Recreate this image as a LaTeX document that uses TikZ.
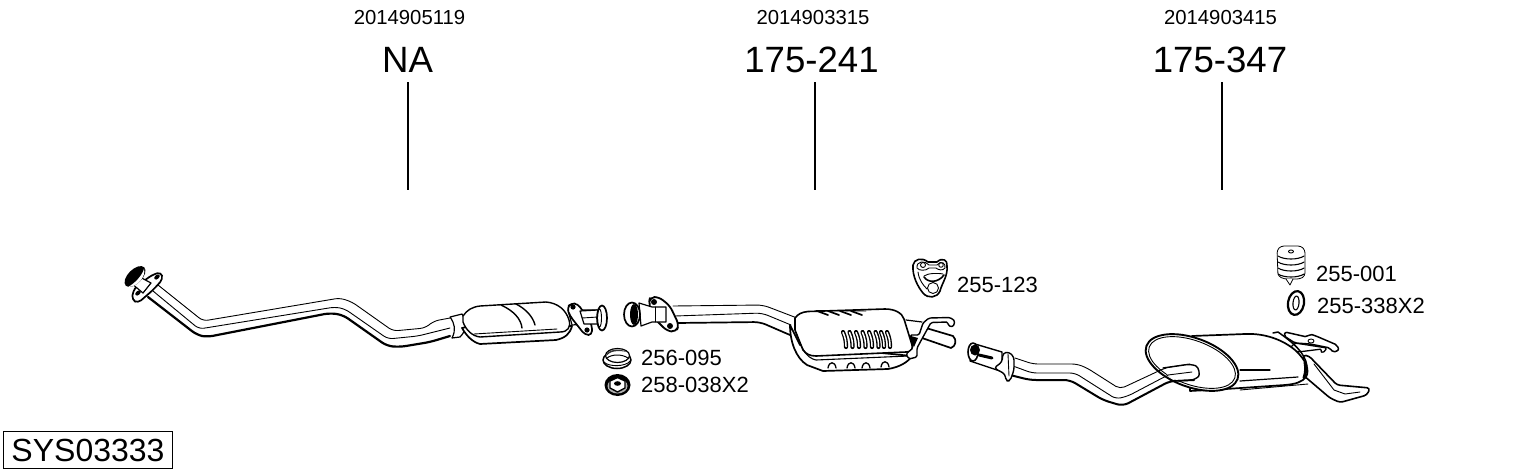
\documentclass[tikz,border=0pt]{standalone}
\usepackage{fontspec}
\setmainfont{Liberation Sans}
\begin{document}
\begin{tikzpicture}[x=1pt,y=-1pt,
  part/.style={draw=black,line width=1.2pt,fill=white,line join=round,line cap=round},
  thin/.style={draw=black,line width=.9pt,line join=round,line cap=round},
  heavy/.style={draw=black,line width=2.2pt,line join=round,line cap=round},
  numlabel/.style={font=\fontsize{20.3}{20.3}\selectfont,inner sep=0pt},
  reflabel/.style={font=\fontsize{36.6}{36.6}\selectfont,inner sep=0pt},
  kitlabel/.style={font=\fontsize{22}{22}\selectfont,inner sep=0pt,anchor=west},
  leader/.style={draw=black,line width=1.2pt}]
\useasboundingbox (0,0) rectangle (1530,474);
\fill[white] (0,0) rectangle (1530,474);

% ---------- header labels and leaders
\node[numlabel] (n1) at (409.5,18) {2014905119};
\node[numlabel] (n2) at (813,18) {2014903315};
\node[numlabel] (n3) at (1220.5,18) {2014903415};
\node[reflabel] (r1) at (407.5,60) {NA};
\node[reflabel] (r2) at (811.5,60) {175-241};
\node[reflabel] (r3) at (1220,60) {175-347};
\coordinate (l1a) at (408,82); \coordinate (l1b) at (408,190);
\coordinate (l2a) at (815,82); \coordinate (l2b) at (815,190);
\coordinate (l3a) at (1222,82); \coordinate (l3b) at (1222,190);
\draw[leader] (l1a) -- (l1b);
\draw[leader] (l2a) -- (l2b);
\draw[leader] (l3a) -- (l3b);

% ---------- part 1: front pipe
\path[fill=white] (160,287) -- (203,321) -- (340,298) -- (370,317) -- (393,331) -- (425,328) -- (450,318) -- (450,336) -- (400,347) -- (387,346) -- (343,315) -- (207,337) -- (197,335) -- (148,297) -- cycle;
\draw[thin,rounded corners=5pt] (158,285) -- (203,321) -- (340,298) -- (352,302) -- (393,331) -- (425,328) -- (434,321) -- (450,318);
\draw[thin,rounded corners=5pt] (153,291) -- (199,329) -- (335,307) -- (345,309) -- (388,339) -- (418,336) -- (450,328);
\draw[heavy,rounded corners=6pt] (148,297) -- (197,335) -- (207,337) -- (330,313) -- (343,315) -- (387,346) -- (400,347) -- (430,342) -- (450,336);
% flange and inlet
\draw[part,rounded corners=4pt,line width=1.7pt] (152,275) -- (161,272) -- (163,279) -- (153,290) -- (138,303) -- (132,300) -- (133,291) -- (137,286) -- cycle;
\fill[black] (157,277) ellipse [x radius=3.2pt,y radius=2pt,rotate=40];
\fill[black] (138,293) ellipse [x radius=3.2pt,y radius=2pt,rotate=40];
\draw[part] (138,276) -- (151,283) -- (143,293) -- (131,283) -- cycle;
\fill[black] (135,276.5) ellipse [x radius=13pt,y radius=7pt,rotate=45];
\path[fill=white] (128,287) .. controls (134,284) and (142,276) .. (144,269) .. controls (146,276) and (138,287) .. (128,287) -- cycle;

% catalyst
\draw[part] (450,317) -- (462,314) .. controls (467,322) and (467,330) .. (460,337) -- (452,338) .. controls (456,330) and (455,324) .. (450,317);
\draw[part,line width=1.7pt] (462,328) .. controls (466,335) and (472,342) .. (480,344) -- (556,340) .. controls (565,338) and (570,334) .. (572,326) -- (566,326) -- (470,326) -- cycle;
\draw[part,line width=1.4pt] (463,316) .. controls (467,310) and (472,307) .. (480,306) -- (546,302) .. controls (558,303) and (566,310) .. (569,320) .. controls (571,327) and (568,332) .. (560,332) -- (480,337) .. controls (472,336) and (466,330) .. (463,322) -- cycle;
\draw[thin,line width=1.4pt] (501,305) .. controls (514,311) and (521,319) .. (522,328);
\draw[thin,line width=1.4pt] (516,304) .. controls (526,309) and (533,317) .. (535,325);
\draw[thin] (474,334) -- (557,329);
% outlet flange
\draw[part] (568,310) -- (597,310) -- (600,323) -- (572,325) -- cycle;
\draw[part,rounded corners=4pt,line width=1.7pt] (571,303) -- (578,304) -- (592,325) -- (592,335) -- (585,335) -- (570,316) -- (567,308) -- cycle;
\fill[black] (573,307) circle [radius=2.6pt];
\fill[black] (587,330) circle [radius=2.6pt];
\draw[part] (580,311) -- (598,310) -- (598,324) -- (584,324) -- cycle;
\draw[thin] (582,318) -- (598,317);
\draw[part,line width=1.7pt] (602,318) ellipse [x radius=5pt,y radius=12.5pt];
\draw[thin] (599.5,318) ellipse [x radius=2pt,y radius=9pt];

% ---------- kit parts 256-095, 258-038X2
\draw[part,line width=1.5pt] (617,360) ellipse [x radius=14pt,y radius=8.5pt];
\draw[thin] (604,362) .. controls (608,367) and (626,367) .. (630,361);
\draw[part] (617.5,355.5) ellipse [x radius=12pt,y radius=7pt];
\path[fill=black!80] (606,356) .. controls (607,349) and (620,348) .. (627,352) .. controls (618,350) and (610,351) .. (606,356) -- cycle;
\draw[black,line width=1pt] (607,358) .. controls (612,354) and (622,354) .. (628,358);
\fill[black] (617.5,385) ellipse [x radius=13pt,y radius=11pt];
\fill[black!30] (617.5,386) ellipse [x radius=10pt,y radius=7.5pt];
\draw[part,line width=1.4pt] (610,381) -- (617.5,377.5) -- (625,381) -- (625,388) -- (617.5,392) -- (610,388) -- cycle;
\fill[black] (617.5,383.5) ellipse [x radius=3.5pt,y radius=2.3pt];
\node[kitlabel] (k1) at (641,358) {256-095};
\node[kitlabel] (k2) at (641,385) {258-038X2};

% ---------- part 2: middle muffler pipe and flange
\path[fill=white] (673,307) -- (763,305) -- (797,318) -- (790,333) -- (760,322) -- (677,323) -- cycle;
\draw[thin,rounded corners=6pt] (673,306) -- (763,305) -- (797,318);
\draw[thin,rounded corners=6pt] (675,316) -- (762,313) -- (791,325);
\draw[heavy,line width=1.7pt,rounded corners=6pt] (677,323) -- (760,322) -- (790,335);
\draw[part,rounded corners=5pt,line width=1.8pt] (650,297) -- (659,297) -- (670,306) -- (679,325) -- (676,332) -- (667,331) -- (652,316) -- (649,303) -- cycle;
\fill[black] (654,302) circle [radius=3pt];
\fill[black] (670,326) circle [radius=3pt];
\draw[part] (639,303) -- (652,307) -- (666,307) -- (666,322) -- (652,322) -- (641,326) -- cycle;
\draw[thin] (655,307) -- (655,322);
\draw[part,line width=1.7pt] (632,314.5) ellipse [x radius=8pt,y radius=12pt];
\fill[black] (634,314.5) ellipse [x radius=4pt,y radius=10.5pt];

% tail pipe behind the muffler
\draw[part,line width=1.7pt] (926,328) -- (953,336) .. controls (957,340) and (956,346) .. (951,348) -- (922,338) -- cycle;
\draw[thin,line width=1.2pt] (906,320) -- (922,322);
% muffler lower shell
\draw[part,line width=1.7pt] (790,325) .. controls (790,342) and (796,358) .. (807,365) -- (823,371) -- (888,369) .. controls (900,367) and (908,362) .. (912,356) -- (800,345) -- cycle;
\foreach \bx/\by in {833/367,852/367,867/367,886/366}
  \draw[thin,line width=1.3pt] (\bx-5,\by+1) .. controls (\bx-4,\by-6) and (\bx+2,\by-6) .. (\bx+3,\by+1);
% muffler upper shell
\draw[part,line width=1.6pt] (795,318) .. controls (798,314) and (802,312) .. (808,311.5) -- (885,309) .. controls (895,309) and (902,313) .. (904,319) -- (912,345) .. controls (913,350) and (911,352) .. (906,352) -- (816,356) .. controls (810,356) and (806,354) .. (803,350) -- (795,330) -- cycle;
\draw[thin,line width=1.1pt] (796,333) .. controls (801,347) and (806,358) .. (816,360) -- (908,356);
% top slits
\foreach \sx in {817,828,840,851}
  \draw[heavy,line width=1.7pt] (\sx,311) -- (\sx+11,315);
\draw[thin] (816,310.5) -- (866,311);
% side slits
\foreach \sx in {843,849.5,856,862.5,869,875.5,881,887}
  {\draw[black,line width=4.2pt,line cap=round] (\sx,332) .. controls (\sx+2.5,338) and (\sx+3,342) .. (\sx+3,347);
   \draw[white,line width=1.5pt,line cap=round] (\sx,332.5) .. controls (\sx+2.5,338) and (\sx+3,342) .. (\sx+3,346.5);}
% hanger bracket on the muffler end
\draw[part,line width=1.4pt,rounded corners=1.5pt] (910,335) -- (919,335) -- (923,323) -- (929,318) -- (950,317.5) -- (955,321) -- (953,327) -- (948,325.5) -- (948,322) -- (931,322.5) -- (923,337) -- (917,348) -- (917,357) -- (909,359) -- (906,354) -- (913,348) -- (912,342) -- cycle;
\fill[black] (911,336) -- (918,338) -- (914,347) -- (911,342) -- cycle;

% bracket 255-123
\draw[part,line width=1.6pt] (913,265) .. controls (914,259) and (922,257) .. (928,262) -- (937,262) .. controls (942,257) and (948,260) .. (947,266) .. controls (948,276) and (942,283) .. (940,291) .. controls (937,298) and (928,299) .. (923,293) .. controls (918,287) and (912,276) .. (913,265) -- cycle;
\draw[thin] (917,268) .. controls (916,261) and (925,260) .. (929,265) -- (937,265) .. controls (941,260) and (946,263) .. (945,268) .. controls (943,271) and (938,270) .. (936,268) -- (929,268) .. controls (926,271) and (919,271) .. (917,268) -- cycle;
\draw[thin] (923,265) circle [radius=2.5pt];
\draw[thin] (941,265) circle [radius=2.3pt];
\draw[thin] (933,288) circle [radius=5.5pt];
\draw[thin,line width=1.6pt] (924,277) .. controls (928,283) and (938,283) .. (944,275);
\draw[thin] (924,276) .. controls (928,273) and (938,273) .. (943,274);
\draw[thin] (918,272) .. controls (919,280) and (923,285) .. (927,289);
\node[kitlabel] (k3) at (957,285) {255-123};

% ---------- part 3: rear pipe
\path[fill=white] (1015,358) -- (1033,364) -- (1077,364) -- (1087,368) -- (1120,389) -- (1165,368) -- (1195,364) -- (1196,380) -- (1170,381) -- (1123,406) -- (1103,400) -- (1070,380) -- (1030,380) -- (1010,375) -- cycle;

% rear muffler: tail pipe
\draw[part,line width=1.6pt,rounded corners=3pt] (1303,355) -- (1309,356) -- (1337,385) -- (1370,388) -- (1367,395) -- (1340,402.5) -- (1330,398) -- (1303,375) -- cycle;
\draw[thin] (1314,364) -- (1334,390) -- (1345,394) -- (1360,392);
\draw[thin] (1240,390) -- (1308,384);
% strap and hanger
\draw[part,line width=1.3pt,rounded corners=1.5pt] (1295,343) -- (1327,348) -- (1323,353) -- (1320,351) -- (1322,349) -- (1298,352) -- (1290,348) -- cycle;
\draw[part,line width=1.5pt,rounded corners=2pt] (1285,332) -- (1307,337) -- (1310,334) -- (1316,336) -- (1337,345) -- (1339,350) -- (1333,352.5) -- (1330,348) -- (1310,344) -- (1295,343) -- (1284,336) -- cycle;
\draw[thin] (1311,341) ellipse [x radius=3pt,y radius=2pt];
% muffler body
\draw[part,line width=1.7pt] (1192,336) -- (1245,334) .. controls (1265,333) and (1283,340) .. (1295,350) .. controls (1306,360) and (1310,370) .. (1306,377) .. controls (1302,382) and (1296,384) .. (1285,385) -- (1226,389) -- (1190,391) -- cycle;
\draw[thin,line width=1.1pt] (1240,370) -- (1270,370);
\draw[thin,line width=1.2pt] (1240,381) -- (1298,377);
\draw[part,fill=none,line width=1.5pt] (1273,333) -- (1278,332) .. controls (1292,342) and (1305,352) .. (1307,366);
\draw[thin,line width=3pt] (1305,362) .. controls (1306,368) and (1306,372) .. (1304,378);
% muffler rim
\draw[part,line width=1.9pt] (1192,362.5) ellipse [x radius=48.5pt,y radius=24.5pt,rotate=-20];
\draw[thin] (1192,362.5) ellipse [x radius=45.5pt,y radius=22pt,rotate=-20];
% pipe lines
\draw[thin,rounded corners=5pt] (1015,358) -- (1033,364) -- (1077,364) -- (1087,368) -- (1120,389) -- (1165,368) -- (1190,364);
\draw[thin,rounded corners=5pt] (1013,366) -- (1032,373) -- (1075,373) -- (1116,399) -- (1128,396) -- (1168,375) -- (1175,374);
\draw[heavy,line width=2pt,rounded corners=6pt] (1010,375) -- (1030,380) -- (1070,380) -- (1103,400) -- (1123,406) -- (1170,381) -- (1194,380);
\path[fill=white,rounded corners=4pt] (1163,369) -- (1192,364) -- (1199,370) -- (1195,379) -- (1172,380) -- cycle;
\draw[thin,line width=1.4pt,rounded corners=5pt] (1163,368) -- (1191,364) .. controls (1199,367) and (1200,375) .. (1195,380) -- (1170,381);
\draw[thin] (1168,375) -- (1192,372);
% inlet and clamp
\draw[part,line width=1.4pt] (975,344) -- (1002,352) -- (1002,371) -- (997,370) -- (970,361) -- cycle;
\draw[part,line width=1.6pt] (973,352) ellipse [x radius=5pt,y radius=9pt];
\fill[black] (975,350) ellipse [x radius=5pt,y radius=5.5pt];
\draw[heavy,line width=3pt] (979,355) -- (992,358);
\draw[part,line width=1.4pt,rounded corners=3pt] (1003,353) -- (1009,352) -- (1014,357) -- (1014,370) -- (1010,381) -- (1006,381) -- (1005,374) -- (994,368) -- (1002,362) -- cycle;
\draw[thin] (1008,354) -- (1009,376);

% kit parts 255-001, 255-338X2
\draw[part,line width=.8pt,rounded corners=3pt] (1277,250) -- (1281,246) -- (1301,246) -- (1305,250) -- (1305,276) -- (1300,279) -- (1284,279) -- (1278,276) -- cycle;
\foreach \ry in {256,262,268,274}
  \draw[thin,line width=1.1pt] (1278,\ry) .. controls (1284,\ry+4) and (1298,\ry+4) .. (1304,\ry);
\draw[thin] (1291,251.5) ellipse [x radius=2.5pt,y radius=1.5pt];
\draw[part,line width=.8pt] (1286,279) -- (1290,285) -- (1293,279);
\draw[part,line width=2.2pt] (1296,303) ellipse [x radius=8pt,y radius=12pt,rotate=-10];
\draw[thin,line width=1.1pt] (1296,303) ellipse [x radius=3pt,y radius=7pt,rotate=-5];
\node[kitlabel] (k4) at (1316,273.5) {255-001};
\node[kitlabel] (k5) at (1317,306) {255-338X2};

% ---------- system number
\node[draw=black,line width=1.2pt,minimum width=169pt,minimum height=37.5pt,inner sep=0pt,
  font=\fontsize{32}{32}\selectfont] (sys) at (88,450) {SYS03333};
\end{tikzpicture}
\end{document}
